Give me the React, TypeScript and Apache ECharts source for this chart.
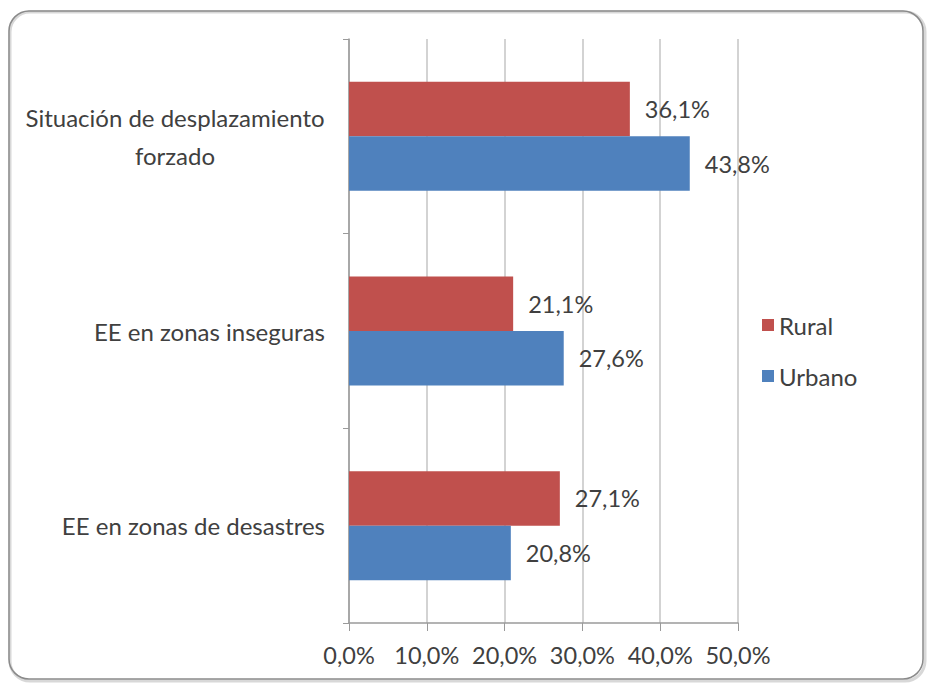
import React, { useEffect, useRef } from "react";
import * as echarts from "echarts";

const categories = [
  "Situación de desplazamiento forzado",
  "EE en zonas inseguras",
  "EE en zonas de desastres",
];
const seriesNames = ["Rural", "Urbano"];
const ruralValues = [36.1, 21.1, 27.1];
const urbanoValues = [43.8, 27.6, 20.8];
const xTicks = [0, 10, 20, 30, 40, 50];

const FONT = "Lato";
const TEXT = "#404040";

const fmt = (v: number) => v.toFixed(1).replace(".", ",") + "%";

export default function App() {
  const ref = useRef<HTMLDivElement>(null);
  useEffect(() => {
    if (!ref.current) return;
    const chart = echarts.init(ref.current, undefined, { renderer: "svg" });
    const label = {
      show: true,
      position: "right",
      distance: 15,
      formatter: (p: any) => fmt(p.value),
      fontFamily: FONT,
      fontSize: 23.5,
      color: TEXT,
    };
    chart.setOption({
      animation: false,
      backgroundColor: "#ffffff",
      textStyle: { fontFamily: FONT },
      graphic: [
        {
          type: "rect",
          shape: { x: 10, y: 12, width: 915, height: 669, r: 20 },
          style: { fill: "none", stroke: "#d8d8d8", lineWidth: 3 },
          silent: true,
        },
        {
          type: "rect",
          shape: { x: 9, y: 11, width: 914, height: 668, r: 20 },
          style: { fill: "none", stroke: "#8a8a8a", lineWidth: 1.5 },
          silent: true,
        },
      ],
      legend: {
        orient: "vertical",
        left: 757,
        top: 308,
        icon: "rect",
        itemWidth: 12,
        itemHeight: 12,
        itemGap: 27,
        data: seriesNames,
        textStyle: { fontFamily: FONT, fontSize: 24, color: TEXT },
      },
      grid: { left: 349, right: 191, top: 39, bottom: 61 },
      xAxis: {
        type: "value",
        min: xTicks[0],
        max: xTicks[xTicks.length - 1],
        interval: 10,
        axisLine: { show: true, lineStyle: { color: "#9a9a9a", width: 1.5 } },
        axisTick: { show: true, length: 8, lineStyle: { color: "#9a9a9a" } },
        splitLine: { show: true, lineStyle: { color: "#c4c4c4", width: 1.5 } },
        axisLabel: {
          formatter: (v: number) => fmt(v),
          fontFamily: FONT,
          fontSize: 23.5,
          color: TEXT,
          margin: 20,
        },
      },
      yAxis: {
        type: "category",
        inverse: true,
        data: categories,
        axisLine: { show: true, lineStyle: { color: "#9a9a9a", width: 1.5 } },
        axisTick: { show: true, length: 6, lineStyle: { color: "#9a9a9a" } },
        axisLabel: {
          fontFamily: FONT,
          fontSize: 24,
          color: TEXT,
          margin: 24,
          lineHeight: 38,
          formatter: (v: string) =>
            v === categories[0]
              ? "{c|Situación de desplazamiento}\n{c|forzado}"
              : v,
          rich: {
            c: {
              width: 300,
              align: "center",
              fontFamily: FONT,
              fontSize: 24,
              color: TEXT,
              lineHeight: 38,
            },
          },
        },
      },
      series: [
        {
          name: seriesNames[0],
          type: "bar",
          data: ruralValues,
          barGap: "0%",
          barCategoryGap: "44%",
          itemStyle: { color: "#C0504D" },
          label,
        },
        {
          name: seriesNames[1],
          type: "bar",
          data: urbanoValues,
          barGap: "0%",
          barCategoryGap: "44%",
          itemStyle: { color: "#4F81BD" },
          label,
        },
      ],
    });
    return () => chart.dispose();
  }, []);
  return (
    <div
      ref={ref}
      style={{ position: "fixed", left: 0, top: 0, width: 929, height: 684 }}
    />
  );
}
